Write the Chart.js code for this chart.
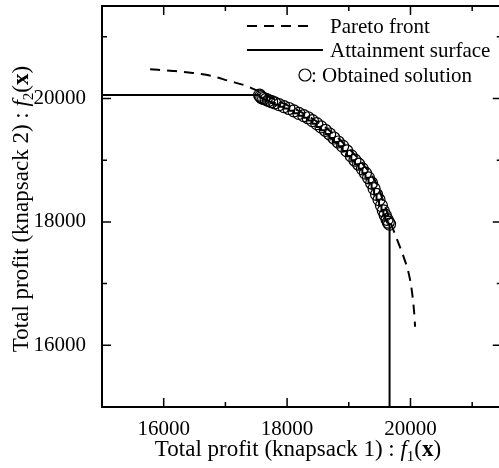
<!DOCTYPE html>
<html>
<head>
<meta charset="utf-8">
<script src="https://cdn.jsdelivr.net/npm/chart.js@4/dist/chart.umd.min.js"></script>
<style>html,body{margin:0;padding:0;background:#fff}</style>
</head>
<body>
<canvas id="paretoChart" width="499" height="468"></canvas>
<script>
// Pareto front (dashed curve)
const frontX = [15780, 16150, 16470, 16780, 17040, 17340, 17530, 17800, 18100, 18400, 18700, 19000, 19250, 19450, 19600, 19700, 19780, 19890, 19970, 20020, 20060, 20075];
const frontY = [20475, 20447, 20415, 20366, 20290, 20205, 20120, 19985, 19845, 19680, 19470, 19190, 18910, 18620, 18220, 17930, 17720, 17430, 17170, 16900, 16530, 16300];

// Obtained solutions (circles)
const solX = [17555, 17570, 17590, 17620, 17660, 17700, 17750, 17800, 17870, 17950, 18030, 18110, 18190, 18270, 18340, 18410, 18480, 18550, 18620, 18690,
              18760, 18830, 18900, 18970, 19040, 19100, 19160, 19220, 19270, 19320, 19370, 19410, 19450, 19490, 19530, 19560, 19590, 19620, 19640, 19661];
const solY = [20055, 20030, 20012, 20000, 19985, 19968, 19948, 19928, 19900, 19868, 19838, 19800, 19760, 19722, 19688, 19642, 19592, 19540, 19485, 19425,
              19360, 19295, 19228, 19150, 19070, 19000, 18935, 18860, 18790, 18715, 18630, 18540, 18445, 18360, 18265, 18180, 18110, 18040, 17995, 17965];

// axis ticks
const xTickLabels = [16000, 18000, 20000];
const xMinorTicks = [17000, 19000, 21000];
const yTickLabels = [16000, 18000, 20000];
const yMinorTicks = [17000, 19000, 21000];
const axisMin = 15000;
const frameMax = 21480; // outer frame (top / right border)

const font = 'Liberation Serif, Times New Roman, serif';

// attainment surface: from the left axis through the solutions down to the bottom axis
const attainPts = [{x: axisMin, y: solY[0]}]
  .concat(solX.map((x, i) => ({x: x, y: solY[i]})))
  .concat([{x: solX[solX.length - 1], y: axisMin}]);

const framePlugin = {
  id: 'frame',
  afterDraw(chart) {
    const ctx = chart.ctx;
    const xs = chart.scales.x, ys = chart.scales.y;
    const left = xs.getPixelForValue(axisMin), right = xs.getPixelForValue(frameMax);
    const bottom = ys.getPixelForValue(axisMin), top = ys.getPixelForValue(21500);
    ctx.save();
    ctx.strokeStyle = '#000';
    ctx.lineWidth = 2;
    ctx.beginPath();
    ctx.moveTo(left - 1, top); ctx.lineTo(right, top);
    ctx.moveTo(right, top); ctx.lineTo(right, bottom);
    ctx.moveTo(left, top); ctx.lineTo(left, bottom);
    ctx.moveTo(left - 1, bottom); ctx.lineTo(right, bottom);
    ctx.stroke();
    // inward tick marks
    ctx.lineWidth = 1.5;
    ctx.beginPath();
    const tickX = (v, len) => {
      const p = xs.getPixelForValue(v);
      ctx.moveTo(p, bottom); ctx.lineTo(p, bottom - len);
      ctx.moveTo(p, top); ctx.lineTo(p, top + len);
    };
    const tickY = (v, len) => {
      const p = ys.getPixelForValue(v);
      ctx.moveTo(left, p); ctx.lineTo(left + len, p);
      ctx.moveTo(right, p); ctx.lineTo(right - len, p);
    };
    xTickLabels.forEach(v => tickX(v, 9));
    xMinorTicks.forEach(v => tickX(v, 5));
    yTickLabels.forEach(v => tickY(v, 9));
    yMinorTicks.forEach(v => tickY(v, 5));
    ctx.stroke();

    // axis titles with italic f, subscript and bold x
    const drawTitle = (num, cx, cy) => {
      const parts = [
        {t: 'Total profit (knapsack ' + num + ') : ', f: '23px ' + font, dy: 0},
        {t: 'f', f: 'italic 23px ' + font, dy: 0},
        {t: num, f: '15px ' + font, dy: 5},
        {t: '(', f: '23px ' + font, dy: 0},
        {t: 'x', f: 'bold 23px ' + font, dy: 0},
        {t: ')', f: '23px ' + font, dy: 0}
      ];
      let w = 0;
      parts.forEach(p => { ctx.font = p.f; p.w = ctx.measureText(p.t).width; w += p.w; });
      let x = cx - w / 2;
      ctx.fillStyle = '#000';
      ctx.textBaseline = 'alphabetic';
      ctx.textAlign = 'left';
      parts.forEach(p => { ctx.font = p.f; ctx.fillText(p.t, x, cy + p.dy); x += p.w; });
    };
    drawTitle('1', 298, 456);
    ctx.save();
    ctx.translate(28, 209);
    ctx.rotate(-Math.PI / 2);
    drawTitle('2', 0, 0);
    ctx.restore();

    // legend
    ctx.lineWidth = 2;
    ctx.beginPath();
    ctx.setLineDash([10, 7]);
    ctx.moveTo(247, 26); ctx.lineTo(313, 26);
    ctx.stroke();
    ctx.setLineDash([]);
    ctx.beginPath();
    ctx.moveTo(247, 50); ctx.lineTo(323, 50);
    ctx.stroke();
    ctx.lineWidth = 1.2;
    ctx.beginPath();
    ctx.arc(305, 75, 6, 0, Math.PI * 2);
    ctx.stroke();
    ctx.font = '21px ' + font;
    ctx.textBaseline = 'middle';
    ctx.fillText('Pareto front', 330, 27);
    ctx.fillText('Attainment surface', 330, 51);
    ctx.fillText(': Obtained solution', 311, 76);
    ctx.restore();
  }
};

const ctx = document.getElementById('paretoChart').getContext('2d');
new Chart(ctx, {
  type: 'scatter',
  data: {
    datasets: [
      {
        label: 'Pareto front',
        data: frontX.map((x, i) => ({x: x, y: frontY[i]})),
        showLine: true,
        borderColor: '#000',
        borderWidth: 2,
        borderDash: [10, 7],
        pointRadius: 0,
        cubicInterpolationMode: 'monotone',
        order: 3
      },
      {
        label: 'Attainment surface',
        data: attainPts,
        showLine: true,
        stepped: 'after',
        borderColor: '#000',
        borderWidth: 2,
        pointRadius: 0,
        order: 2
      },
      {
        label: 'Obtained solution',
        data: solX.map((x, i) => ({x: x, y: solY[i]})),
        showLine: false,
        pointRadius: 6,
        pointBorderWidth: 1.2,
        pointBorderColor: '#000',
        pointBackgroundColor: 'rgba(0,0,0,0)',
        order: 1
      }
    ]
  },
  options: {
    responsive: false,
    animation: false,
    layout: {padding: {top: 6, right: 0, left: 0, bottom: 0}},
    plugins: {legend: {display: false}, tooltip: {enabled: false}},
    scales: {
      x: {
        type: 'linear', min: axisMin, max: 21318,
        grid: {display: false},
        border: {display: true, color: '#000', width: 2},
        ticks: {color: '#000', font: {family: font, size: 21}, padding: 2, maxRotation: 0, autoSkip: false,
                callback: v => String(v)},
        afterBuildTicks: s => { s.ticks = xTickLabels.map(v => ({value: v})); },
        afterFit: s => { s.height = 61; s.paddingLeft = 0; s.paddingRight = 0; }
      },
      y: {
        type: 'linear', min: axisMin, max: 21480,
        grid: {display: false},
        border: {display: true, color: '#000', width: 2},
        ticks: {color: '#000', font: {family: font, size: 21}, padding: 8, autoSkip: false,
                callback: v => String(v)},
        afterBuildTicks: s => { s.ticks = yTickLabels.map(v => ({value: v})); },
        afterFit: s => { s.width = 102; s.paddingTop = 0; s.paddingBottom = 0; }
      }
    }
  },
  plugins: [framePlugin]
});
</script>
</body>
</html>
